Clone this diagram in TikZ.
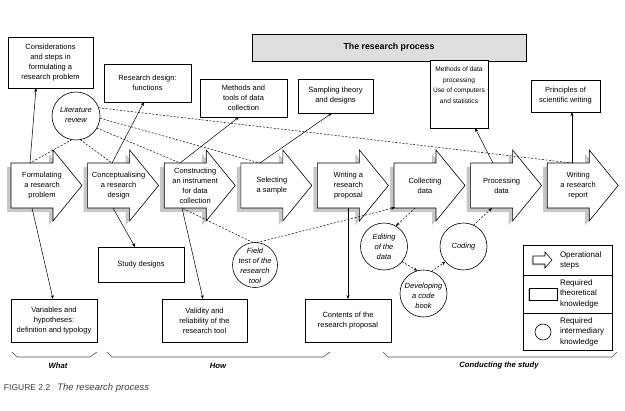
\documentclass[tikz,border=0pt]{standalone}
\usepackage{fontspec}
\setmainfont{Liberation Sans}
\usetikzlibrary{arrows.meta}
\begin{document}
\begin{tikzpicture}[x=1pt,y=-1pt,
  every node/.style={inner sep=0pt, outer sep=0pt},
  txt/.style={font=\fontsize{7.5}{10}\selectfont, align=center},
  ctxt/.style={font=\fontsize{7.5}{10}\selectfont\itshape, align=center},
  kbox/.style={draw, line width=0.6pt, fill=white, txt},
  kcirc/.style={draw, circle, line width=0.6pt},
  conn/.style={line width=0.5pt, -{Stealth[length=4pt,width=3pt]}},
  dconn/.style={line width=0.5pt, dash pattern=on 2pt off 1.6pt},
  dconnar/.style={dconn, -{Stealth[length=4pt,width=3pt]}},
  stepshape/.style={draw, line width=0.6pt, fill=white},
  shadowc/.style={fill=black!22},
  bracec/.style={line width=0.6pt, draw=black!70},
  bracelbl/.style={font=\fontsize{7.7}{9}\selectfont\bfseries\itshape},
]
\useasboundingbox (0,0) rectangle (625,411);

% ---- operational steps (big arrows)
\foreach \L in {11,87.6,164.2,240.8,317.4,394,470.6,547.2}{
  \fill[shadowc,shift={(\L-4,4)}] (0,163) -- (42,163) -- (42,150) -- (71,185.5) -- (42,221) -- (42,208) -- (0,208) -- cycle;
  \draw[stepshape,shift={(\L,0)}] (0,163) -- (42,163) -- (42,150) -- (71,185.5) -- (42,221) -- (42,208) -- (0,208) -- cycle;
}
\node[txt] (s1) at (42,185.5) {Formulating\\a research\\problem};
\node[txt] (s2) at (118.6,185.5) {Conceptualising\\a research\\design};
\node[txt] (s3) at (195.2,185.5) {Constructing\\an instrument\\for data\\collection};
\node[txt] (s4) at (271.8,185.5) {Selecting\\a sample};
\node[txt] (s5) at (348.4,185.5) {Writing a\\research\\proposal};
\node[txt] (s6) at (425,185.5) {Collecting\\data};
\node[txt] (s7) at (501.6,185.5) {Processing\\data};
\node[txt] (s8) at (578.2,185.5) {Writing\\a research\\report};

\coordinate (a1t) at (30,163);
\coordinate (a1b) at (32,208);
\coordinate (a2t) at (112,163);
\coordinate (a2b) at (113,208);
\coordinate (a3t) at (180,163);
\coordinate (a3b) at (182,208);
\coordinate (a4t) at (260,163);
\coordinate (a5b) at (348,208);
\coordinate (a6l) at (395,207.5);
\coordinate (a6b) at (415,208);
\coordinate (a7t) at (493,163);
\coordinate (a7b) at (492,208);
\coordinate (a8t) at (572,163);

% ---- knowledge boxes
\node[kbox, minimum width=85pt, minimum height=51pt] (consid) at (50.5,62.5) {Considerations\\and steps in\\formulating a\\research problem};
\node[kbox, minimum width=87pt, minimum height=38pt] (rdes) at (147.5,83) {Research design:\\functions};
\node[kbox, minimum width=87pt, minimum height=38pt] (mtools) at (243.5,98) {Methods and\\tools of data\\collection};
\node[kbox, minimum width=75pt, minimum height=34pt] (samp) at (335.5,96) {Sampling theory\\and designs};
\node[draw, line width=0.6pt, fill=black!13, minimum width=274pt, minimum height=27pt, font=\fontsize{8.8}{10}\selectfont\bfseries] (title) at (389,47.5) {The research process};
\node[kbox, minimum width=58pt, minimum height=68pt] (mproc) at (459,94) {};
\node[txt, font=\fontsize{6.6}{10.5}\selectfont] (mproct) at (459,85) {Methods of data\\processing\\Use of computers\\and statistics};
\node[kbox, minimum width=69pt, minimum height=32pt] (princ) at (565.5,96) {Principles of\\scientific writing};
\node[kbox, minimum width=86pt, minimum height=35pt] (study) at (141,264.5) {Study designs};
\node[kbox, minimum width=86pt, minimum height=43pt] (vars) at (54,320.5) {Variables and\\hypotheses:\\definition and typology};
\node[kbox, minimum width=85pt, minimum height=43pt] (valid) at (204.5,320.5) {Validity and\\reliability of the\\research tool};
\node[kbox, minimum width=86pt, minimum height=43pt] (contents) at (348,320.5) {Contents of the\\research proposal};

% ---- intermediary knowledge circles
\node[kcirc, minimum size=48pt] (lit) at (76,116) {};
\node[ctxt] (litt) at (76,115) {Literature\\review};
\node[kcirc, minimum size=45pt] (ft) at (255,265) {};
\node[ctxt] (ftt) at (255,266) {Field\\test of the\\research\\tool};
\node[kcirc, minimum size=47pt] (edit) at (384,246.5) {};
\node[ctxt] (editt) at (384,247) {Editing\\of the\\data};
\node[kcirc, minimum size=47pt] (cod) at (463.5,246.5) {};
\node[ctxt] (codt) at (463.5,247) {Coding};
\node[kcirc, minimum size=47pt] (dev) at (423.5,293.5) {};
\node[ctxt] (devt) at (423.5,296) {Developing\\a code\\book};

% ---- solid connectors
\draw[conn] (a1t) -- ([xshift=28pt]consid.south west);
\draw[conn] (a1b) -- ([xshift=42pt]vars.north west);
\draw[conn] (a2t) -- ([xshift=40pt]rdes.south west);
\draw[conn] (a2b) -- ([xshift=37pt]study.north west);
\draw[conn] (a3t) -- ([xshift=39pt]mtools.south west);
\draw[conn] (a3b) -- ([xshift=41pt]valid.north west);
\draw[conn] (a4t) -- ([xshift=34pt]samp.south west);
\draw[conn] (a5b) -- (a5b |- contents.north);
\draw[conn] (a7t) -- ([xshift=45pt]mproc.south west);
\draw[conn] (a8t) -- (a8t |- princ.south);

% ---- dashed connectors
\draw[dconn] (lit.-100) -- (a1t);
\draw[dconn] (lit.-80) -- (a2t);
\draw[dconn] (lit.-30) -- (a3t);
\draw[dconn] (lit.-5) -- (a4t);
\draw[dconn] (lit.20) -- (a8t);
\draw[dconn] (ft.95) -- (a3b);
\draw[dconnar] (ft.85) -- (a6l);
\draw[dconnar] (a6b) -- (edit.60);
\draw[dconnar] (edit.-40) -- (dev.105);
\draw[dconnar] (dev.70) -- (cod.220);
\draw[dconnar] (cod.65) -- (a7b);

% ---- legend
\node[draw, line width=0.6pt, minimum width=89pt, minimum height=105pt] (leg) at (567.5,297.5) {};
\draw[line width=0.6pt] (523,275) -- (612,275);
\draw[line width=0.6pt] (523,313) -- (612,313);
\fill[shadowc] (531.5,257.5) -- (543.5,257.5) -- (543.5,253.5) -- (550.5,261.5) -- (543.5,269.5) -- (543.5,265.5) -- (531.5,265.5) -- cycle;
\draw[line width=0.6pt, fill=white] (533,256) -- (545,256) -- (545,252) -- (552,260) -- (545,268) -- (545,264) -- (533,264) -- cycle;
\fill[shadowc] (527.5,289.5) rectangle (555.5,301.5);
\draw[line width=0.6pt, fill=white] (529,288) rectangle (557,300);
\node[kcirc, minimum size=16pt] (legc) at (543,332) {};
\node[anchor=west, align=left, font=\fontsize{8}{10.5}\selectfont] (lg1) at (560,260.5) {Operational\\steps};
\node[anchor=west, align=left, font=\fontsize{8}{10.5}\selectfont] (lg2) at (560,293.5) {Required\\theoretical\\knowledge};
\node[anchor=west, align=left, font=\fontsize{8}{10.5}\selectfont] (lg3) at (560,331.5) {Required\\intermediary\\knowledge};

% ---- braces
\draw[bracec] (12,352) -- (17,357) -- (90,357) -- (97,352);
\draw[bracec] (107,352) -- (112,357) -- (323,357) -- (330,352);
\draw[bracec] (383,352) -- (388,357) -- (612,357) -- (617,352);
\node[bracelbl] (what) at (58,366) {What};
\node[bracelbl] (how) at (218,366) {How};
\node[bracelbl] (conduct) at (499,366) {Conducting the study};

% ---- caption
\node[anchor=west, text=black!75] (cap) at (4,388) {\fontsize{8.5}{10}\selectfont FIGURE 2.2\hspace{7pt}{\fontsize{9.5}{10}\selectfont\itshape The research process}};
\end{tikzpicture}
\end{document}
